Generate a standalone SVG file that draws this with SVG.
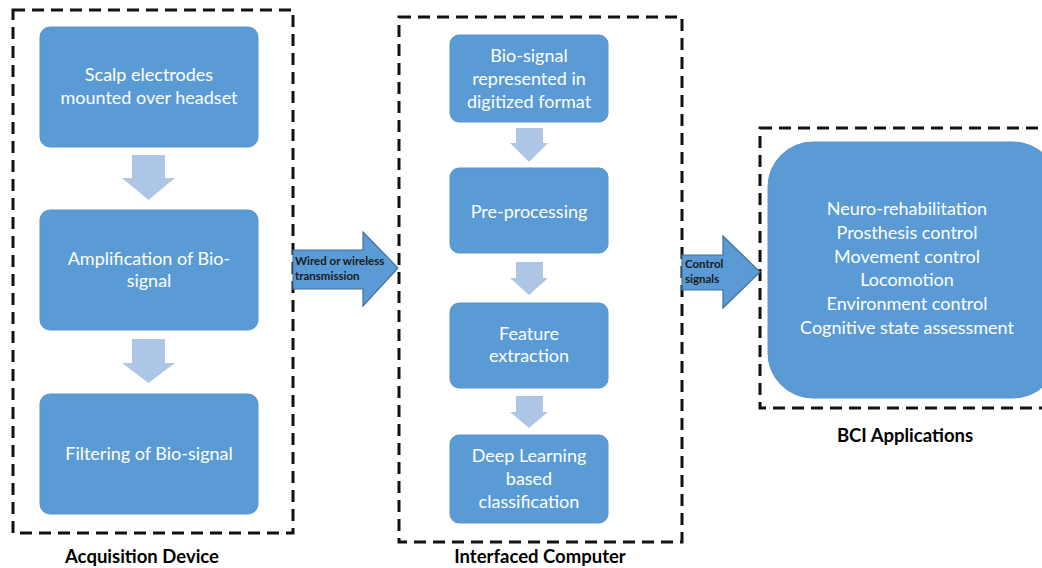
<svg xmlns="http://www.w3.org/2000/svg" width="1042" height="568" viewBox="0 0 1042 568">
  <style>
    .frame { fill: none; stroke: #111; stroke-width: 3; stroke-dasharray: 12 7; }
    .node { fill: #5b9bd5; stroke: #5894cc; stroke-width: 1; }
    .step { fill: #aec6e6; }
    .flow { fill: #5b9bd5; stroke: #41719c; stroke-width: 1.2; }
    .t { font-family: Lato, "Open Sans", "Liberation Sans", sans-serif; font-size: 18px; fill: #ffffff; text-anchor: middle; }
    .s { font-family: Lato, "Open Sans", "Liberation Sans", sans-serif; font-size: 11.5px; fill: #1a1a1a; font-weight: bold; }
    .cap { font-family: Lato, "Open Sans", "Liberation Sans", sans-serif; font-size: 18.5px; font-weight: bold; fill: #000; text-anchor: middle; }
  </style>
  <rect width="1042" height="568" fill="#ffffff"/>

  <!-- Dashed group frames and their captions -->
  <g id="acquisition-device">
    <rect class="frame" x="13" y="10" width="280" height="523"/>
    <text class="cap" x="142" y="563">Acquisition Device</text>
  </g>
  <g id="interfaced-computer">
    <rect class="frame" x="399" y="17" width="283" height="525"/>
    <text class="cap" x="540" y="563">Interfaced Computer</text>
  </g>
  <g id="bci-applications">
    <rect class="frame" x="760" y="128" width="300" height="280"/>
    <text class="cap" x="905" y="442">BCI Applications</text>
  </g>

  <!-- Acquisition stages -->
  <g id="scalp-electrodes">
    <rect class="node" x="40" y="27" width="218" height="120" rx="10"/>
    <text class="t" x="149" y="81">Scalp electrodes</text>
    <text class="t" x="149" y="104">mounted over headset</text>
  </g>
  <g id="amplification">
    <rect class="node" x="40" y="210" width="218" height="120" rx="10"/>
    <text class="t" x="149" y="265">Amplification of Bio-</text>
    <text class="t" x="149" y="287">signal</text>
  </g>
  <g id="filtering">
    <rect class="node" x="40" y="394" width="218" height="120" rx="10"/>
    <text class="t" x="149" y="460">Filtering of Bio-signal</text>
  </g>

  <!-- Computer stages -->
  <g id="digitized">
    <rect class="node" x="450" y="35" width="158" height="87" rx="9"/>
    <text class="t" x="529" y="62">Bio-signal</text>
    <text class="t" x="529" y="85">represented in</text>
    <text class="t" x="529" y="108">digitized format</text>
  </g>
  <g id="pre-processing">
    <rect class="node" x="450" y="168" width="158" height="85" rx="9"/>
    <text class="t" x="529" y="218">Pre-processing</text>
  </g>
  <g id="feature-extraction">
    <rect class="node" x="450" y="303" width="158" height="85" rx="9"/>
    <text class="t" x="529" y="340">Feature</text>
    <text class="t" x="529" y="362">extraction</text>
  </g>
  <g id="classification">
    <rect class="node" x="450" y="435" width="158" height="88" rx="9"/>
    <text class="t" x="529" y="462">Deep Learning</text>
    <text class="t" x="529" y="485">based</text>
    <text class="t" x="529" y="508">classification</text>
  </g>

  <!-- Application list -->
  <g id="applications">
    <rect class="node" x="768" y="142" width="290" height="256" rx="45"/>
    <text class="t" x="907" y="215">Neuro-rehabilitation</text>
    <text class="t" x="907" y="239">Prosthesis control</text>
    <text class="t" x="907" y="263">Movement control</text>
    <text class="t" x="907" y="286">Locomotion</text>
    <text class="t" x="907" y="310">Environment control</text>
    <text class="t" x="907" y="334">Cognitive state assessment</text>
  </g>

  <!-- Connectors -->
  <g id="connectors">
    <polygon class="step" points="132,155 165,155 165,178 175,178 148.5,200 122,178 132,178"/>
    <polygon class="step" points="132,339 165,339 165,363 175,363 148.5,383 122,363 132,363"/>
    <polygon class="step" points="516,128 543,128 543,143 548,143 529,162 510,143 516,143"/>
    <polygon class="step" points="516,262 543,262 543,278 548,278 529,295 510,278 516,278"/>
    <polygon class="step" points="516,396 543,396 543,412 548,412 529,428 510,412 516,412"/>

    <polygon class="flow" points="293,250 363,250 363,232 398,268 363,306 363,289 293,289"/>
    <text class="s" x="295" y="265">Wired or wireless</text>
    <text class="s" x="295" y="280">transmission</text>

    <polygon class="flow" points="682,255 723,255 723,236 760,272 723,308 723,290 682,290"/>
    <text class="s" x="685" y="268">Control</text>
    <text class="s" x="685" y="283">signals</text>
  </g>
</svg>
